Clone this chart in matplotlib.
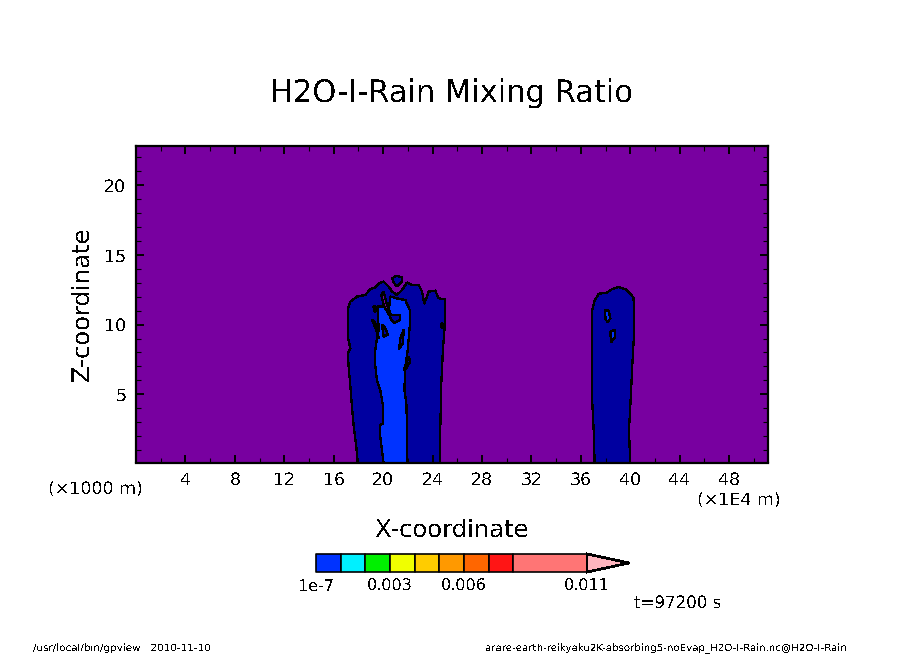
import matplotlib
matplotlib.use("Agg")
import matplotlib.pyplot as plt

plt.rcParams['font.family'] = ['DejaVu Sans']
plt.rcParams['text.antialiased'] = False
plt.rcParams['text.hinting'] = 'none'

W, H = 904, 654

# plume outlines, x in 1E4 m, z in 1000 m
outer_x = [17.94, 17.94, 17.83, 17.62, 17.48, 17.35, 17.21, 17.13, 17.35, 17.13, 17.13, 17.35, 17.89,
           18.56, 18.97, 19.37, 19.72, 20.04, 20.45, 20.72, 21.12, 21.53, 21.93, 22.34, 22.88, 23.15,
           23.33, 23.60, 23.69, 24.22, 24.49, 24.98, 24.98, 24.84, 24.71, 24.63, 24.63]
outer_z = [0.0, 0.17, 1.24, 2.68, 4.12, 5.55, 6.99, 7.94, 8.30, 9.14, 11.05, 11.65, 12.01,
           12.13, 12.54, 12.68, 12.97, 13.09, 12.73, 12.37, 12.13, 12.49, 13.02, 12.85, 12.85, 12.37,
           11.49, 12.13, 12.37, 12.44, 11.89, 11.82, 9.86, 8.18, 5.79, 2.68, 0.0]
cap_x = [20.75, 21.07, 21.50, 21.50, 21.12, 20.80]
cap_z = [13.33, 13.50, 13.40, 13.09, 12.73, 13.09]
gap_x = [19.86, 20.04, 20.31, 20.64, 20.45, 20.04]
gap_z = [12.13, 12.37, 11.41, 10.70, 10.70, 11.41]
core_x = [20.04, 19.77, 19.77, 20.0, 20.0, 19.77, 19.5, 19.37, 19.37, 19.5, 19.64, 19.56, 20.04, 20.45,
          20.58, 21.39, 21.80, 22.15, 22.15, 21.99, 21.80, 21.72, 21.88, 21.93, 21.93]
core_z = [0.0, 1.96, 2.80, 2.92, 4.12, 5.31, 6.03, 6.99, 8.18, 9.02, 9.62, 11.29, 11.29, 10.93,
          12.01, 11.82, 11.77, 11.05, 9.86, 8.18, 6.99, 5.31, 4.35, 2.68, 0.0]
right_x = [37.12, 37.04, 36.93, 36.93, 37.09, 37.44, 38.12, 38.52, 39.06, 39.60, 40.0, 40.27, 40.33,
           40.19, 40.06, 39.90, 40.0]
right_z = [0.0, 2.44, 4.36, 11.06, 11.66, 12.21, 12.30, 12.54, 12.69, 12.54, 12.25, 11.90, 9.62,
           7.47, 5.08, 2.44, 0.0]

# low pockets inside the core
low_a = ([19.91, 20.18, 20.39, 20.04], [9.98, 9.74, 9.26, 9.14])
low_b = ([21.39, 21.66, 21.61, 21.29], [9.02, 9.62, 8.66, 8.23])
low_c = ([21.66, 22.07, 22.2, 21.80], [6.75, 7.66, 7.35, 6.75])
low_d = ([19.10, 19.37, 19.64, 19.45], [10.34, 10.10, 9.02, 9.62])
low_e = ([20.53, 21.39, 21.34, 20.91, 20.64], [10.70, 10.70, 10.34, 10.10, 10.34])
# high pockets inside the outer contour
high_a = ([19.18, 19.37, 19.37, 19.23], [11.37, 11.37, 11.0, 11.0])
high_b = ([24.66, 24.79, 24.79, 24.66], [10.1, 10.1, 9.81, 9.81])
high_c = ([37.93, 38.25, 38.39, 38.17, 38.01], [11.01, 11.01, 10.46, 10.15, 10.39])
high_d = ([38.39, 38.79, 38.79, 38.44], [9.50, 9.62, 9.14, 8.71])

# colour bar
levels = [1e-7, 0.001, 0.002, 0.003, 0.004, 0.005, 0.006, 0.007, 0.008, 0.011]
bar_colors = ['#0033FF', '#00F0FF', '#00F000', '#F0FF00', '#FFCC00', '#FF9900', '#FF6600', '#FF1515', '#FF7575']
over_color = '#FFB5BE'
over_tip = 0.0127
bar_ticks = [1e-7, 0.003, 0.006, 0.011]
bar_labels = ['1e-7', '0.003', '0.006', '0.011']

x_ticks = list(range(4, 49, 4))
z_ticks = [5, 10, 15, 20]

bg_color = '#7800A0'
low_color = '#0000A0'
high_color = bar_colors[0]

fig = plt.figure(figsize=(W / 100, H / 100), dpi=100)
ax = fig.add_axes([136 / W, 1 - 462.5 / H, 632 / W, 316.5 / H])
ax.set_facecolor(bg_color)
ax.set_xlim(0, 51.15)
ax.set_ylim(0.1, 22.82)


def blob(x, z, color):
    ax.fill(x, z, facecolor=color, edgecolor='black', linewidth=0.9, antialiased=False)


blob(outer_x, outer_z, low_color)
blob(cap_x, cap_z, low_color)
blob(right_x, right_z, low_color)
blob(core_x, core_z, high_color)
blob(gap_x, gap_z, bg_color)
for x, z in (low_a, low_b, low_c, low_d, low_e):
    blob(x, z, low_color)
for x, z in (high_a, high_b, high_c, high_d):
    blob(x, z, high_color)

ax.set_xticks(x_ticks)
ax.set_yticks(z_ticks)
ax.set_xticks(range(2, 51, 2), minor=True)
ax.set_yticks(range(1, 23), minor=True)
ax.tick_params(which='major', direction='in', length=6, width=1.4, top=True, right=True, labelsize=12.5, pad=7)
ax.tick_params(which='minor', direction='in', length=3.5, width=0.8, top=True, right=True)
for s in ax.spines.values():
    s.set_linewidth(1.6)


def px_text(x, y, s, size, ha='center', rotation=0):
    fig.text(x / W, 1 - y / H, s, fontsize=size, ha=ha, va='center', rotation=rotation)


px_text(452, 94, 'H2O-I-Rain Mixing Ratio', 22)
px_text(452, 530, 'X-coordinate', 17.5)
px_text(82, 304, 'Z-coordinate', 17.5, rotation=90)
px_text(95, 490, '(×1000 m)', 12.5)
px_text(739, 501, '(×1E4 m)', 12.5)
px_text(678, 603, 't=97200 s', 12)
px_text(33, 648, '/usr/local/bin/gpview   2010-11-10', 7.5, ha='left')
px_text(847, 648, 'arare-earth-reikyaku2K-absorbing5-noEvap_H2O-I-Rain.nc@H2O-I-Rain', 7.4, ha='right')

# colour bar axes
cax = fig.add_axes([316 / W, 1 - 572 / H, 313 / W, 18 / H])
cax.set_xlim(0, over_tip)
cax.set_ylim(0, 1)
cax.axis('off')
for i, c in enumerate(bar_colors):
    cax.fill_between([levels[i], levels[i + 1]], 0, 1, facecolor=c, edgecolor='black', linewidth=1.2,
                     antialiased=False, clip_on=False)
cax.fill([levels[-1], over_tip, levels[-1]], [0, 0.5, 1], facecolor=over_color, edgecolor='black',
         linewidth=1.2, antialiased=False, clip_on=False)
for v, s in zip(bar_ticks, bar_labels):
    cax.text(v, -0.78, s, fontsize=11.5, ha='center', va='center')

fig.savefig('out.png', dpi=100)
